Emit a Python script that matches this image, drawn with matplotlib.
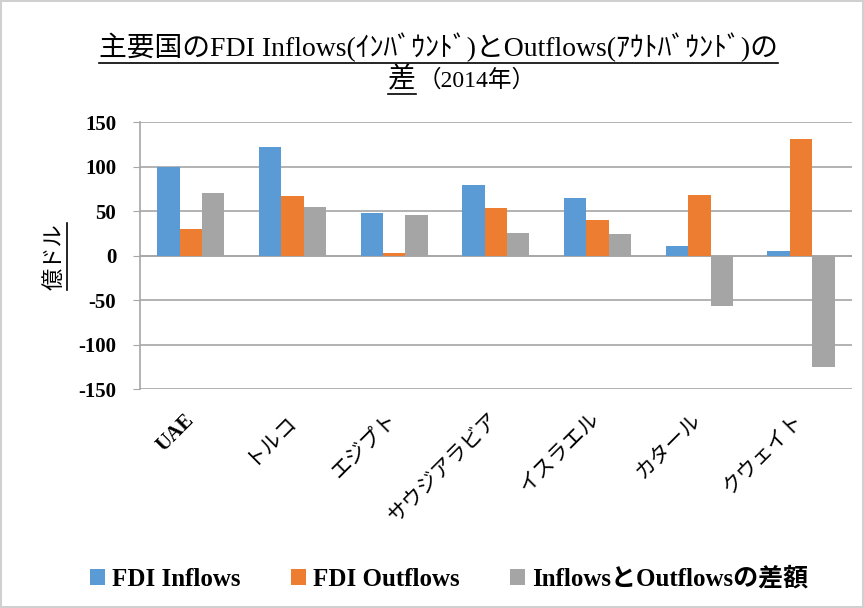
import matplotlib
matplotlib.use('Agg')
import matplotlib.pyplot as plt
from matplotlib.patches import Patch
from matplotlib.lines import Line2D
import numpy as np

countries = ['UAE', 'トルコ', 'エジプト', 'サウジアラビア', 'イスラエル', 'カタール', 'クウェイト']
inflows = [100.0, 121.7, 48.0, 79.6, 64.7, 10.8, 4.8]
outflows = [30.5, 66.6, 2.6, 53.9, 40.2, 67.7, 131.0]
diffs = [70.3, 55.0, 45.8, 26.0, 24.9, -57.0, -125.0]
series_names = ['FDI Inflows', 'FDI Outflows', 'InflowsとOutflowsの差額']
colors = ['#5B9BD5', '#ED7D31', '#A5A5A5']
yticks = [150, 100, 50, 0, -50, -100, -150]

FAM = ['Liberation Serif', 'Noto Sans CJK JP']
plt.rcParams['font.family'] = FAM

fig = plt.figure(figsize=(8.64, 6.08), dpi=100)
fig.patch.set_edgecolor('#d0d0d0')
fig.patch.set_linewidth(1.5)
ax = fig.add_axes([0.162, 0.360, 0.824, 0.439])

x = np.arange(len(countries))
w = 0.22
for k, vals in enumerate([inflows, outflows, diffs]):
    ax.bar(x + (k - 1) * w, vals, width=w, color=colors[k], zorder=3)

ax.set_xlim(-0.5, len(countries) - 0.5)
ax.set_ylim(-150, 150)
ax.set_yticks(yticks)
ax.set_yticklabels([str(v) for v in yticks], fontsize=15, fontweight='bold')
ax.yaxis.grid(True, color='#a6a6a6', linewidth=1.2, zorder=0)
ax.axhline(0, color='#a6a6a6', linewidth=1.2, zorder=2)
for s in ['top', 'right', 'bottom']:
    ax.spines[s].set_visible(False)
ax.spines['left'].set_color('#a6a6a6')
ax.spines['left'].set_linewidth(1.2)
ax.tick_params(axis='y', length=5, color='#a6a6a6', pad=12)
ax.set_xticks(x)
ax.set_xticklabels(countries, rotation=45, ha='right', va='center',
                   rotation_mode='anchor', fontsize=15)
ax.get_xticklabels()[0].set_fontweight('bold')
ax.tick_params(axis='x', length=0, pad=20)

# title (underlined parts drawn as lines)
t1 = fig.text(0.508, 0.908, '主要国のFDI Inflows(ｲﾝﾊﾞｳﾝﾄﾞ)とOutflows(ｱｳﾄﾊﾞｳﾝﾄﾞ)の',
              ha='center', va='baseline', fontsize=20)
t2a = fig.text(0.481, 0.857, '差', ha='right', va='baseline', fontsize=20)
t2b = fig.text(0.483, 0.857, '（2014年）', ha='left', va='baseline', fontsize=17)
ylab = fig.text(0.064, 0.578, '億ドル', rotation=90, ha='center', va='center', fontsize=16)

fig.canvas.draw()
r = fig.canvas.get_renderer()
W, H = fig.bbox.width, fig.bbox.height
for t in (t1, t2a):
    bb = t.get_window_extent(r)
    yb = (bb.y0 - 1) / H
    fig.add_artist(Line2D([bb.x0 / W, bb.x1 / W], [yb, yb], color='black', lw=1.2))
bb = ylab.get_window_extent(r)
xl = (bb.x1 + 1) / W
fig.add_artist(Line2D([xl, xl], [bb.y0 / H, bb.y1 / H], color='black', lw=1.2))

handles = [Patch(facecolor=c, edgecolor='none') for c in colors]
leg = fig.legend(handles, series_names, loc='center', bbox_to_anchor=(0.52, 0.048),
                 ncol=3, frameon=False, handlelength=0.6, handleheight=0.6,
                 handletextpad=0.3, columnspacing=2.0,
                 prop={'size': 18, 'weight': 'bold', 'family': FAM})

fig.savefig('out.png', dpi=100)
